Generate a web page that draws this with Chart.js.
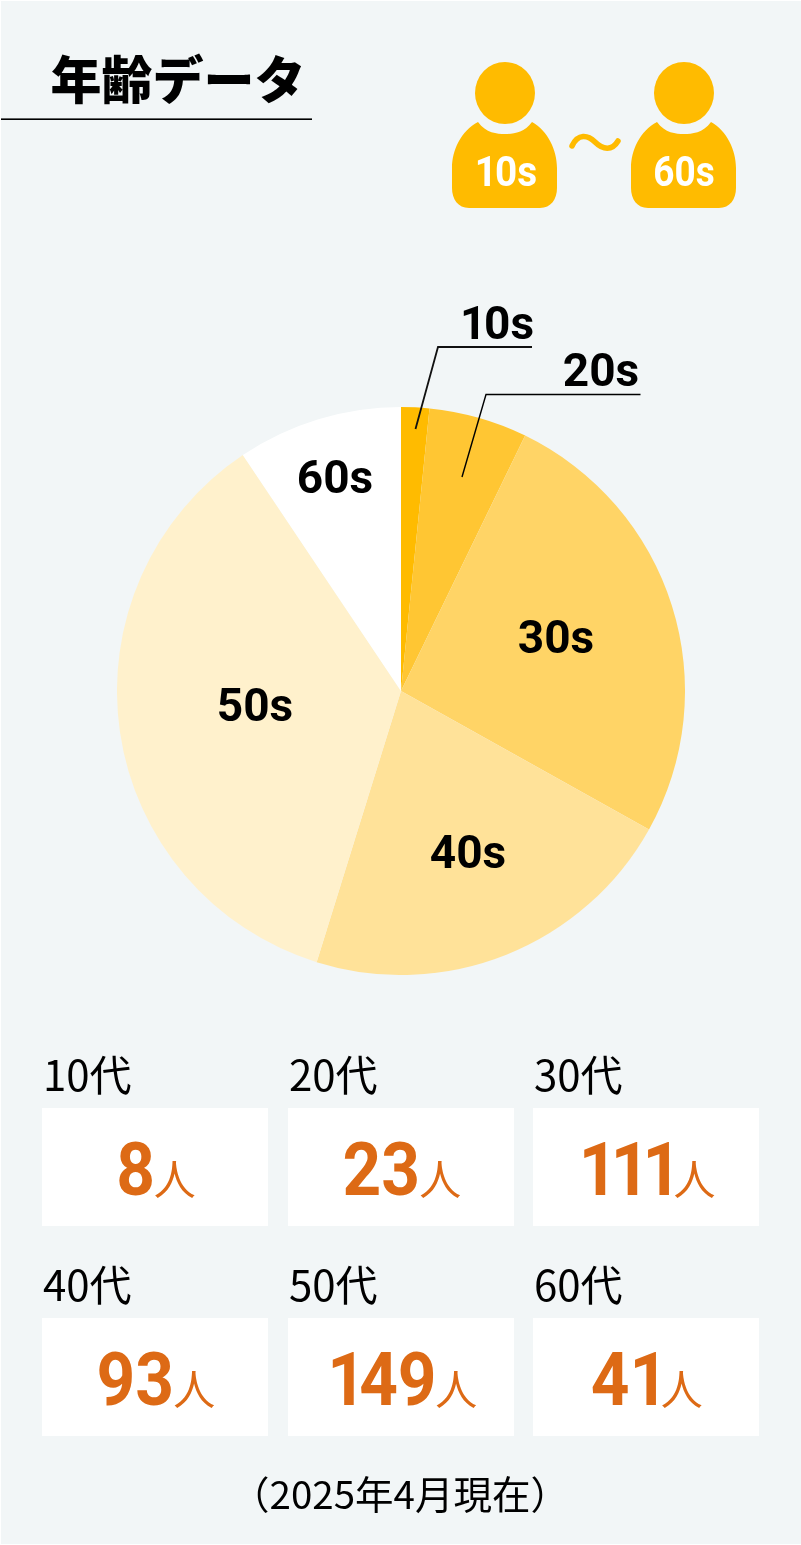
<!DOCTYPE html>
<html lang="ja">
<head>
<meta charset="utf-8">
<title>年齢データ</title>
<script src="https://cdn.jsdelivr.net/npm/chart.js@4"></script>
<style>
html, body { margin: 0; padding: 0; background: #fff; }
#page { position: relative; width: 801px; height: 1545px; background: #fff; overflow: hidden;
  font-family: "Noto Sans CJK JP", sans-serif; color: #000; }
#page > * { position: absolute; }
#bg { left: 1px; top: 1px; width: 800px; height: 1543px; background: #f2f6f7; }
#pie { left: 117px; top: 407px; }
#overlay { left: 0; top: 0; }
.t { white-space: nowrap; line-height: 1; transform: translate(-50%, -50%); }
.din { font-family: Roboto, sans-serif; font-weight: 700; }
.one { letter-spacing: -.05em; }
.tile { background: #fff; width: 226px; height: 118px; }
.tile div { position: absolute; left: 2px; right: 0; top: 2px; display: flex; justify-content: center; align-items: baseline;
  line-height: 118px; color: #dd6a15; }
.num { display: inline-block; font-family: Roboto, sans-serif; font-weight: 700; font-size: 75px; transform: scaleX(.9); transform-origin: right center; }
.num .one { letter-spacing: -.1em; }
.unit { font-size: 42px; margin-left: -1px; }
</style>
</head>
<body>
<div id="page">
  <div id="bg"></div>
  <div class="t" style="left:178px;top:77px;font-size:51px;font-weight:900">年齢データ</div>
  <canvas id="pie" width="568" height="568"></canvas>
  <svg id="overlay" width="801" height="1545" xmlns="http://www.w3.org/2000/svg">
    <rect x="1" y="118.4" width="311" height="1.6" fill="#000"/>
    <g fill="#ffbb00">
      <g id="person">
        <ellipse cx="505" cy="93" rx="30" ry="31"/>
        <path d="M478 122 C486 133 497 134 505 134 C513 134 524 133 532 122 C548 131 557 150 557 168 L557 188 C557 199 551 208 540 208 L469 208 C458 208 452 199 452 188 L452 168 C452 150 461 131 478 122 Z"/>
      </g>
      <use href="#person" x="179"/>
    </g>
    <path d="M572 146 C578 133 588 135 595 142 C603 150 612 151 618 141" fill="none" stroke="#ffbb00" stroke-width="5.5" stroke-linecap="round"/>
    <path d="M415.5 429 L438 347 L532 347" fill="none" stroke="#111" stroke-width="1.8"/>
    <path d="M462 477 L486 394.5 L640.5 394.5" fill="none" stroke="#000" stroke-width="1.4"/>
  </svg>
</div>
<script>
const categories = ['10代', '20代', '30代', '40代', '50代', '60代'];
const shortLabels = ['10s', '20s', '30s', '40s', '50s', '60s'];
const counts = [8, 23, 111, 93, 149, 41];
// slice sizes as drawn in the picture (%), they are not quite the counts
const sliceShares = [1.6, 5.6, 25.9, 21.7, 35.8, 9.4];
const sliceColors = ['#ffbb00', '#ffc633', '#ffd466', '#ffe299', '#fff1cc', '#ffffff'];
const unit = '人';
const asOf = '（2025年4月現在）';

const page = document.getElementById('page');

// the reference font has a narrow 1, so pull those in
function digitsHtml(text) {
    return String(text).replace(/1/g, '<span class="one">1</span>');
}

function addText(text, x, y, style, cls) {
    const el = document.createElement('div');
    el.className = cls || 't';
    el.innerHTML = cls ? digitsHtml(text) : text;
    el.style.left = x + 'px';
    el.style.top = y + 'px';
    Object.assign(el.style, style || {});
    page.appendChild(el);
    return el;
}

new Chart(document.getElementById('pie'), {
    type: 'pie',
    data: {
        labels: shortLabels,
        datasets: [{ data: sliceShares, backgroundColor: sliceColors, borderWidth: 0 }]
    },
    options: {
        responsive: false,
        animation: false,
        plugins: { legend: { display: false }, tooltip: { enabled: false } }
    }
});

// labels around and on the pie, same order as shortLabels
const pieLabelSpots = [[497, 323], [601, 370], [556, 637], [468, 852], [255, 705], [335, 477]];
shortLabels.forEach((s, i) => {
    addText(s, pieLabelSpots[i][0], pieLabelSpots[i][1], { fontSize: '46px' }, 't din');
});

// the two people icons
addText(shortLabels[0], 506, 171, { fontSize: '43px', color: '#fff', transform: 'translate(-50%,-50%) scaleX(.9)' }, 't din');
addText(shortLabels[5], 684, 171, { fontSize: '43px', color: '#fff', transform: 'translate(-50%,-50%) scaleX(.86)' }, 't din');

// tiles
const tileX = [42, 288, 533];
const tileY = [1108, 1318];
categories.forEach((c, i) => {
    const col = i % 3, row = Math.floor(i / 3);
    addText(c, tileX[col] + 1, tileY[row] - 35, { fontSize: '42px', transform: 'translateY(-50%)' });
    const tile = document.createElement('div');
    tile.className = 'tile';
    tile.style.left = tileX[col] + 'px';
    tile.style.top = tileY[row] + 'px';
    const line = document.createElement('div');
    const n = document.createElement('span');
    n.className = 'num';
    n.innerHTML = digitsHtml(counts[i]);
    const u = document.createElement('span');
    u.className = 'unit';
    u.textContent = unit;
    line.appendChild(n);
    line.appendChild(u);
    tile.appendChild(line);
    page.appendChild(tile);
    n.style.marginLeft = -(0.1 * n.offsetWidth) + 'px';
});

addText(asOf, 400, 1492, { fontSize: '38.5px' });
</script>
</body>
</html>
